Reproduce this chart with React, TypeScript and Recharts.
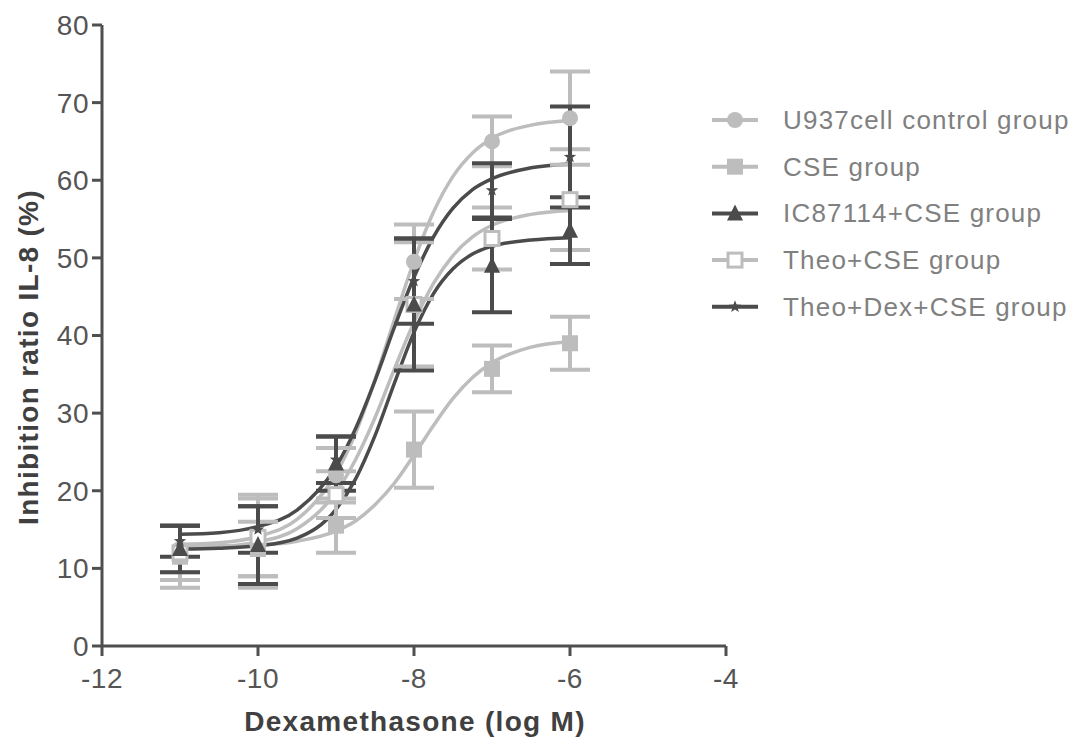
import React from 'react';
import { ComposedChart, Line, Scatter, ErrorBar, XAxis, YAxis, Label } from 'recharts';

// Measured doses (log M)
const doses = [-11, -10, -9, -8, -7, -6];

// Group means (%) and error (±)
const u937Mean = [12.5, 13.5, 22, 49.5, 65, 68];
const u937Err = [3, 6, 3.5, 4.8, 3.2, 6];
const cseMean = [11.5, 12.5, 15.5, 25.3, 35.7, 39];
const cseErr = [4, 3.5, 3.5, 4.9, 3, 3.4];
const icMean = [12.5, 13, 23.5, 44, 49, 53.5];
const icErr = [3, 5, 3.5, 8.5, 6, 4.3];
const theoMean = [12, 14, 19.5, 44, 52.5, 57.5];
const theoErr = [3.5, 5, 3, 8, 4, 6.5];
const theoDexMean = [13.5, 15, 24, 47, 58.7, 63];
const theoDexErr = [2, 3, 3, 5.5, 3.5, 6.5];

// Fitted dose-response curves, read at these doses
const fitDoses = [-11, -10.5, -10, -9.5, -9, -8.75, -8.5, -8.25, -8, -7.75, -7.5, -7.25, -7, -6.5, -6];
const u937Fit = [13.1, 13.3, 14.1, 16.3, 22.2, 27.4, 34.3, 42.1, 49.6, 55.9, 60.5, 63.5, 65.4, 67.1, 67.7];
const cseFit = [12.8, 12.9, 13.0, 13.5, 14.8, 16.1, 18.2, 21.0, 24.6, 28.4, 31.9, 34.6, 36.5, 38.5, 39.2];
const icFit = [12.5, 12.6, 12.9, 13.9, 17.6, 21.5, 27.1, 33.9, 40.4, 45.4, 48.6, 50.5, 51.5, 52.3, 52.6];
const theoFit = [12.6, 12.8, 13.4, 15.1, 19.8, 24.0, 29.4, 35.7, 41.7, 46.7, 50.3, 52.7, 54.2, 55.6, 56.1];
const theoDexFit = [14.4, 14.6, 15.4, 17.5, 23.1, 28.0, 34.2, 41.1, 47.5, 52.7, 56.4, 58.8, 60.2, 61.6, 62.1];

const xTicks = [-12, -10, -8, -6, -4];
const yTicks = [0, 10, 20, 30, 40, 50, 60, 70, 80];

const LIGHT = '#bdbdbd';
const DARK = '#4b4b4b';
const AXIS = '#4f4f4f';
const FONT = 'Arial, "Liberation Sans", sans-serif';

const points = (mean: number[], err: number[]) =>
  doses.map((x, i) => ({ x, y: mean[i], err: err[i] }));
const curve = (fit: number[]) => fitDoses.map((x, i) => ({ x, y: fit[i] }));

type MarkerKind = 'circle' | 'square' | 'triangle' | 'openSquare' | 'star';

const Marker = ({ kind, cx, cy, color }: { kind: MarkerKind; cx: number; cy: number; color: string }) => {
  if (kind === 'circle') return <circle cx={cx} cy={cy} r={8} fill={color} />;
  if (kind === 'square') return <rect x={cx - 8} y={cy - 8} width={16} height={16} fill={color} />;
  if (kind === 'openSquare')
    return <rect x={cx - 7} y={cy - 7} width={14} height={14} fill="#fff" stroke={color} strokeWidth={3} />;
  if (kind === 'triangle')
    return <polygon points={`${cx},${cy - 9} ${cx + 8},${cy + 7} ${cx - 8},${cy + 7}`} fill={color} />;
  const pts: string[] = [];
  for (let k = 0; k < 10; k++) {
    const r = k % 2 === 0 ? 6.5 : 2.7;
    const a = -Math.PI / 2 + (k * Math.PI) / 5;
    pts.push(`${cx + r * Math.cos(a)},${cy + r * Math.sin(a)}`);
  }
  return <polygon points={pts.join(' ')} fill={color} />;
};

const series = [
  { name: 'U937cell control group', color: LIGHT, kind: 'circle' as MarkerKind, mean: u937Mean, err: u937Err, fit: u937Fit },
  { name: 'CSE group', color: LIGHT, kind: 'square' as MarkerKind, mean: cseMean, err: cseErr, fit: cseFit },
  { name: 'Theo+CSE group', color: LIGHT, kind: 'openSquare' as MarkerKind, mean: theoMean, err: theoErr, fit: theoFit },
  { name: 'IC87114+CSE group', color: DARK, kind: 'triangle' as MarkerKind, mean: icMean, err: icErr, fit: icFit },
  { name: 'Theo+Dex+CSE group', color: DARK, kind: 'star' as MarkerKind, mean: theoDexMean, err: theoDexErr, fit: theoDexFit },
];

const legendOrder = [0, 1, 3, 2, 4];

const LegendBox = () => (
  <svg width={380} height={250} style={{ position: 'absolute', left: 705, top: 100 }}>
    {legendOrder.map((idx, row) => {
      const s = series[idx];
      const cy = 20 + row * 46.7;
      return (
        <g key={s.name}>
          <line x1={7} x2={53} y1={cy} y2={cy} stroke={s.color} strokeWidth={4} />
          <Marker kind={s.kind} cx={30} cy={cy} color={s.color} />
          <text x={78} y={cy + 9} fontSize={26} fill="#808080" fontFamily={FONT} letterSpacing={1.2}>
            {s.name}
          </text>
        </g>
      );
    })}
  </svg>
);

const tickStyle = { fill: '#555', fontSize: 28, fontFamily: FONT, letterSpacing: 0.5 };
const titleStyle = { fill: '#404040', fontSize: 28, fontWeight: 'bold' as const, fontFamily: FONT, letterSpacing: 1.3 };

export default function App() {
  return (
    <div style={{ position: 'absolute', left: 0, top: 0, width: 1087, height: 751, background: '#fff' }}>
      <ComposedChart width={1087} height={751} margin={{ top: 25, right: 361, bottom: 0, left: 0 }}>
        <XAxis
          type="number"
          dataKey="x"
          domain={[-12, -4]}
          ticks={xTicks}
          allowDataOverflow
          height={105}
          stroke={AXIS}
          strokeWidth={3}
          tickSize={10}
          tickMargin={12}
          tick={tickStyle}
        >
          <Label
            content={() => (
              <text x={415} y={731} textAnchor="middle" {...titleStyle}>
                Dexamethasone (log M)
              </text>
            )}
          />
        </XAxis>
        <YAxis
          type="number"
          dataKey="y"
          domain={[0, 80]}
          ticks={yTicks}
          width={102}
          stroke={AXIS}
          strokeWidth={3}
          tickSize={10}
          tickMargin={3}
          tick={tickStyle}
        >
          <Label
            content={() => (
              <text transform="translate(38,357) rotate(-90)" textAnchor="middle" {...titleStyle}>
                Inhibition ratio IL-8 (%)
              </text>
            )}
          />
        </YAxis>
        {series.map((s) => (
          <Line
            key={`fit-${s.name}`}
            data={curve(s.fit)}
            dataKey="y"
            type="monotone"
            stroke={s.color}
            strokeWidth={3.5}
            dot={false}
            activeDot={false}
            legendType="none"
            isAnimationActive={false}
          />
        ))}
        {series.map((s) => (
          <Scatter
            key={`pts-${s.name}`}
            data={points(s.mean, s.err)}
            dataKey="y"
            fill={s.color}
            legendType="none"
            isAnimationActive={false}
            shape={(p: any) => <Marker kind={s.kind} cx={p.cx} cy={p.cy} color={s.color} />}
          >
            <ErrorBar dataKey="err" direction="y" width={20} stroke={s.color} strokeWidth={4} />
          </Scatter>
        ))}
      </ComposedChart>
      <LegendBox />
    </div>
  );
}
